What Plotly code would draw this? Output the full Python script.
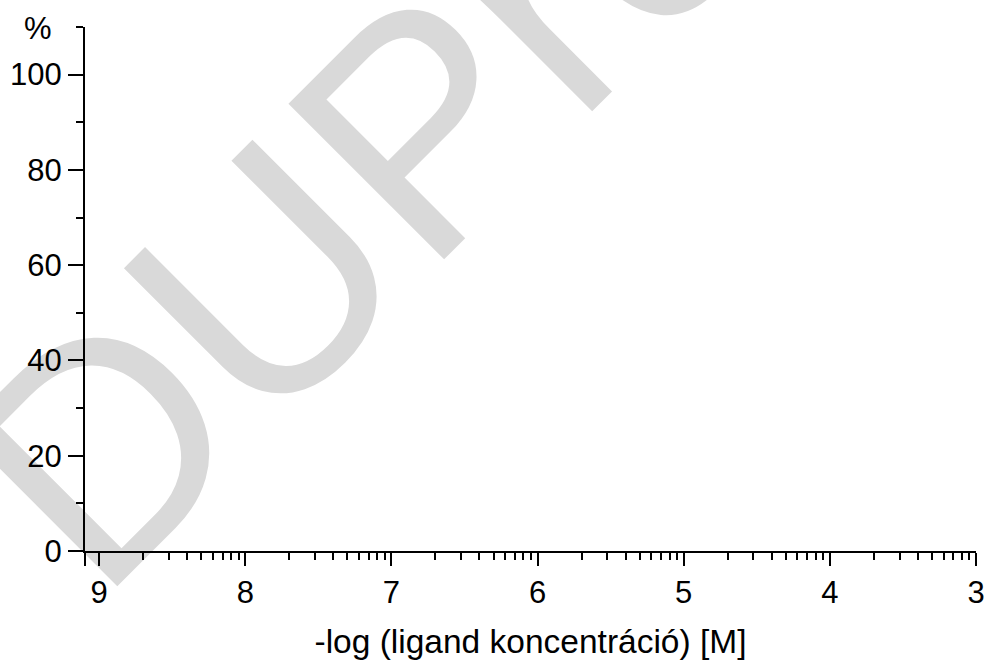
import math
import plotly.graph_objects as go

# ---- data / labels -------------------------------------------------------
x_major = [9, 8, 7, 6, 5, 4, 3]
x_major_labels = ["9", "8", "7", "6", "5", "4", "3"]
# minor ticks of the -log scale: concentrations k*10^-n  ->  n - log10(k)
minor_multipliers = [2, 3, 4, 5, 6, 7, 8, 9]
x_range = [9.0969, 3.0]
y_major = [0, 20, 40, 60, 80, 100]
y_minor = [10, 30, 50, 70, 90, 110]
y_range = [0, 110]
x_title = "-log (ligand koncentráció) [M]"
y_unit = "%"
watermark = "DUPro"

x_minor = []
for n in range(3, 10):
    for k in minor_multipliers:
        v = n - math.log10(k)
        if x_range[1] <= v < x_range[0] - 1e-3:
            x_minor.append(v)

# long tick at the left end of the x axis (no label)
x_tickvals = [x_range[0]] + x_major
x_ticktext = [""] + x_major_labels

FONT = "Liberation Sans, Arial, sans-serif"

fig = go.Figure()
fig.add_trace(go.Scatter(x=[], y=[], mode="lines", showlegend=False))

fig.update_layout(
    width=987, height=660,
    margin=dict(l=85, r=11, t=27, b=109),
    paper_bgcolor="white", plot_bgcolor="white",
    font=dict(family=FONT, size=31, color="black"),
    showlegend=False,
)

fig.update_xaxes(
    range=x_range, automargin=False,
    tickmode="array", tickvals=x_tickvals, ticktext=x_ticktext,
    ticks="outside", ticklen=13, tickwidth=2, tickcolor="black",
    showline=True, linewidth=2, linecolor="black",
    showgrid=False, zeroline=False,
    tickfont=dict(size=31),
    minor=dict(tickvals=x_minor, ticks="outside", ticklen=7, tickwidth=2,
               tickcolor="black", showgrid=False),
    title=dict(text=x_title, font=dict(size=33.5), standoff=20),
)
fig.update_yaxes(
    range=y_range, automargin=False,
    tickmode="array", tickvals=y_major,
    ticks="outside", ticklen=15, tickwidth=2, tickcolor="black",
    showline=True, linewidth=2, linecolor="black",
    showgrid=False, zeroline=False,
    tickfont=dict(size=31),
    minor=dict(tickvals=y_minor, ticks="outside", ticklen=7, tickwidth=2,
               tickcolor="black", showgrid=False),
)

# unit label above the y axis
fig.add_annotation(text=y_unit, xref="paper", yref="paper",
                   x=-0.0527, y=0.998, xanchor="center", yanchor="middle",
                   showarrow=False, font=dict(size=31, family=FONT))

# light grey diagonal watermark, drawn below the axes
cx, cy = 0.3065 - 0.0220, 0.7021 + 0.0335
fig.add_shape(type="rect", xref="paper", yref="paper",
              x0=cx - 0.001, x1=cx + 0.001, y0=cy - 0.001, y1=cy + 0.001,
              line=dict(width=0), fillcolor="rgba(0,0,0,0)", layer="below",
              label=dict(text=watermark, textangle=-45,
                         textposition="middle center",
                         font=dict(size=320, color="#d9d9d9", family=FONT)))

fig.write_html("out.html")
